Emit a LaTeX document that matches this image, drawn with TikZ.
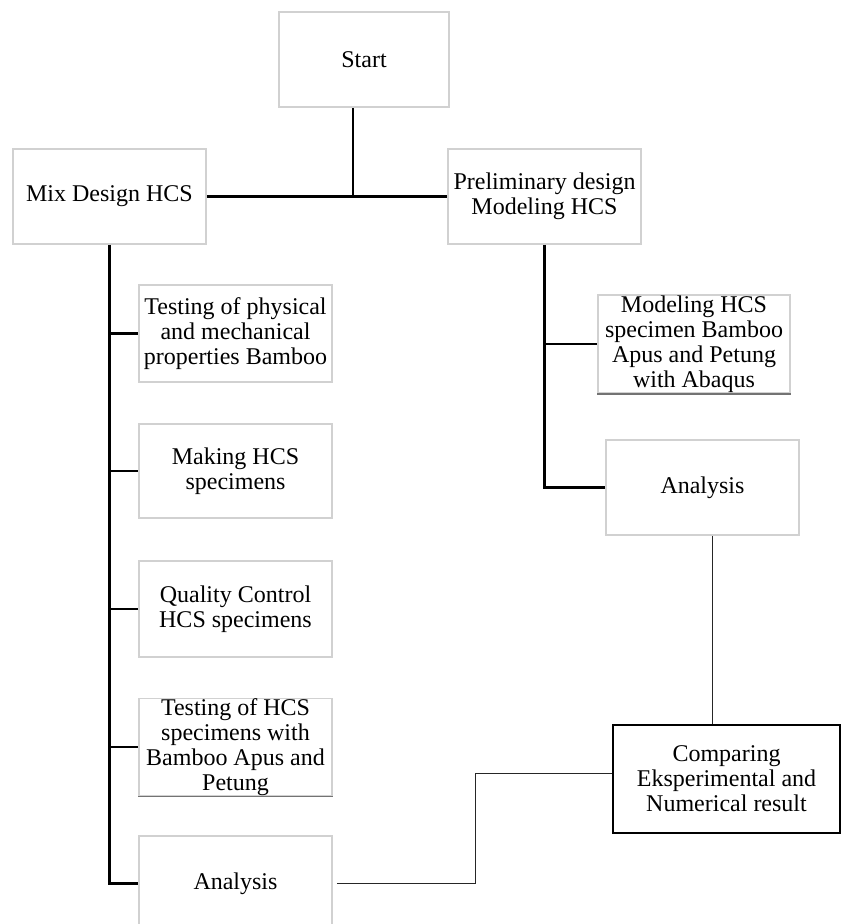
\documentclass[tikz,border=0pt]{standalone}
\usepackage{fontspec}
\setmainfont{Liberation Serif}
\begin{document}
\begin{tikzpicture}[x=1pt,y=-1pt,
  box/.style={draw=black!18,line width=1.5pt,fill=white,align=center,inner sep=0pt,
    minimum width=193pt,minimum height=95pt,
    font=\fontsize{24}{25}\selectfont},
  cbox/.style={box,draw=black,line width=1.1pt},
  trunk/.style={line width=2.6pt,line cap=rect},
  thinline/.style={line width=1pt,draw=black!85},
  shadowedge/.style={line width=1.5pt,draw=black!55}]
\useasboundingbox (0,0) rectangle (843,924);

\node[box,minimum width=170pt] (start) at (364,59.5) {Start};
\node[box] (mix) at (109.5,196.5) {Mix Design HCS};
\node[box] (prelim) at (544.5,196.5) {Preliminary design\\Modeling HCS};
\node[box,minimum height=97pt] (test1) at (235.5,333.5) {Testing of physical\\and mechanical\\properties Bamboo};
\node[box,minimum height=94pt] (make) at (235.5,471) {Making HCS\\specimens};
\node[box,minimum height=96pt] (qc) at (235.5,609) {Quality Control\\HCS specimens};
\node[box,minimum height=96pt] (test2) at (235.5,747) {Testing of HCS\\specimens with\\Bamboo Apus and\\Petung};
\node[box] (ana1) at (235.5,883.5) {Analysis};
\node[box,minimum width=192pt,minimum height=98pt] (model) at (694,344) {Modeling HCS\\specimen Bamboo\\Apus and Petung\\with Abaqus};
\node[box] (ana2) at (702.5,487.5) {Analysis};
\node[cbox,minimum width=227pt,minimum height=108pt] (comp) at (726.5,779) {Comparing\\Eksperimental and\\Numerical result};

% darker bottom edges
\draw[shadowedge] (model.south west) -- (model.south east);
\draw[shadowedge] (test2.south west) -- (test2.south east);

% top junction
\coordinate (j) at (353,196.5);
\draw[trunk,line cap=butt] (start.south -| j) -- (j);
\draw[trunk,line cap=butt] (mix.east) -- (j) -- (prelim.west);

% left trunk
\draw[trunk,line cap=butt] (mix.south) |- (ana1.west);
\draw[trunk,line cap=butt] (mix.south |- test1.west) -- (test1.west);
\draw[trunk,line cap=butt] (mix.south |- make.west) -- (make.west);
\draw[trunk,line cap=butt] (mix.south |- qc.west) -- (qc.west);
\draw[trunk,line cap=butt] (mix.south |- test2.west) -- (test2.west);

% right trunk
\draw[trunk,line cap=butt] (prelim.south) |- (ana2.west);
\draw[trunk,line cap=butt] (prelim.south |- model.west) -- (model.west);

% thin connectors
\coordinate (a2b) at ([xshift=9.5pt]ana2.south);
\draw[thinline] (a2b) -- (a2b |- comp.north);
\coordinate (k) at (475,773);
\draw[thinline] ([xshift=4pt]ana1.east) -| (k) -- (k -| comp.west);
\end{tikzpicture}
\end{document}
